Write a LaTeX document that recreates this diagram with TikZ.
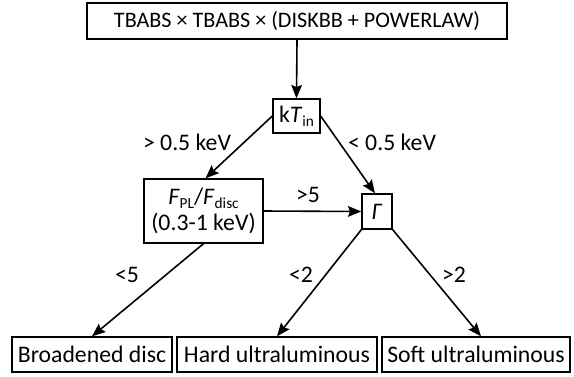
\documentclass[tikz,border=0pt]{standalone}
\usepackage{fontspec}
\setmainfont{Carlito}
\usetikzlibrary{arrows.meta}
\newcommand\mysub[1]{\raisebox{-0.35ex}{\fontsize{11.5}{12}\selectfont #1}}
\begin{document}
\begin{tikzpicture}[x=0.75pt,y=-0.75pt,
  font=\fontsize{17.8}{19}\selectfont,
  box/.style={draw,line width=1pt,inner sep=0pt},
  conn/.style={line width=1.2pt,-{Stealth[length=10pt,width=8pt,inset=1.5pt]}},
  lbl/.style={inner sep=0pt}]
\useasboundingbox (0,0) rectangle (574,376);
\node[box,minimum width=420*0.75pt,minimum height=36*0.75pt,font=\fontsize{16.6}{18}\selectfont] (top) at (297,21) {TBABS × TBABS × (DISKBB + POWERLAW)};
\node[box,minimum width=47*0.75pt,minimum height=34*0.75pt] (kT) at (296.5,116) {k\textit{T}\mysub{in}};
\node[box,minimum width=119*0.75pt,minimum height=64*0.75pt,align=center] (F) at (203.5,211) {\textit{F}\mysub{PL}/\textit{F}\mysub{disc}\\[1pt](0.3-1 keV)};
\node[box,minimum width=30*0.75pt,minimum height=35*0.75pt] (G) at (377,211.5) {\textit{Γ}};
\node[box,minimum width=160*0.75pt,minimum height=35*0.75pt] (bd) at (92,354.5) {Broadened disc};
\node[box,minimum width=200*0.75pt,minimum height=35*0.75pt] (hu) at (277,354.5) {Hard ultraluminous};
\node[box,minimum width=188*0.75pt,minimum height=35*0.75pt] (su) at (476,354.5) {Soft ultraluminous};
\draw[conn] (top.south) -- (kT.north);
\draw[conn] (kT.west) -- ([xshift=2*0.75pt]F.north);
\draw[conn] (kT.east) -- ([xshift=-2*0.75pt]G.north);
\draw[conn] (F.east) -- (G.west);
\draw[conn] (F.south) -- (bd.north);
\draw[conn] (G.south west) -- (hu.north);
\draw[conn] (G.south east) -- ([xshift=5*0.75pt]su.north);
\node[lbl] (l1) at (187,142) {> 0.5 keV};
\node[lbl] (l2) at (392,142) {< 0.5 keV};
\node[lbl] (l3) at (308,195) {>5};
\node[lbl] (l4) at (127,275) {<5};
\node[lbl] (l5) at (301,275) {<2};
\node[lbl] (l6) at (454,275) {>2};
\end{tikzpicture}
\end{document}
